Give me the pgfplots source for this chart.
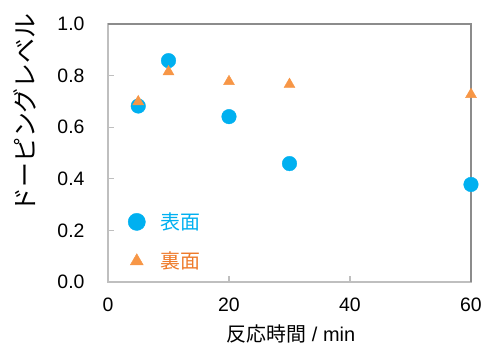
\documentclass[border=0pt]{standalone}
\usepackage{fontspec}
\setmainfont{Liberation Sans}
\newfontfamily\jp{Noto Sans CJK JP}
\usepackage{pgfplots}
\pgfplotsset{compat=1.18}
\usepackage{pgfplotstable}
\definecolor{cblue}{HTML}{00B0F0}
\definecolor{corange}{HTML}{F79646}
\definecolor{torange}{HTML}{EE7A2A}
\definecolor{lgray}{HTML}{BFBFBF}
\definecolor{dgray}{HTML}{8C8C8C}
\pgfplotstableread{
x y
5 0.682
10 0.858
20 0.641
30 0.459
60 0.378
}\surf
\pgfplotstableread{
x y
5 0.699
10 0.815
20 0.777
30 0.766
60 0.727
}\back
\begin{document}
\begin{tikzpicture}
\useasboundingbox (-108bp,-65bp) rectangle (376bp,282bp);
\begin{axis}[
  scale only axis,
  width=363bp, height=258bp,
  xmin=0, xmax=60, ymin=0, ymax=1,
  xtick={0,20,40,60},
  ytick={0,0.2,0.4,0.6,0.8,1.0},
  yticklabel style={/pgf/number format/fixed,/pgf/number format/fixed zerofill,/pgf/number format/precision=1},
  /pgf/number format/assume math mode=true,
  tick pos=left,
  tick align=inside,
  major tick length=6bp,
  tick style={lgray, line width=1.2bp},
  axis line style={lgray, line width=1.5bp},
  tick label style={font=\fontsize{19.5}{22}\selectfont},
  xticklabel style={yshift=-12bp},
  yticklabel style={xshift=-20bp},
  xlabel={{\jp 反応時間} / min},
  ylabel={\jp ドーピングレベル},
  label style={font=\fontsize{20}{24}\selectfont},
  xlabel style={at={(axis description cs:0.504,-0.2)}, anchor=center},
  ylabel style={at={(axis description cs:-0.229,0.655)}, anchor=center, rotate=0, font=\fontsize{25}{28}\selectfont},
  clip=false,
  legend style={at={(axis description cs:0.055,0.037)}, anchor=south west, draw=none, fill=none,
    row sep=17bp, font=\fontsize{20}{24}\selectfont, inner sep=0pt},
  legend cell align=left,
  legend image post style={scale=1.18},
  cycle list={{draw=none}},
]
% top/right darker border
\draw[dgray, line width=1.5bp] (rel axis cs:0,1) -- (rel axis cs:1,1) -- (rel axis cs:1,0);
\addplot[only marks, mark=*, mark size=7.3bp, draw=cblue, fill=cblue, mark options={draw=none, fill=cblue}] table[x=x,y=y]{\surf};
\addlegendentry{\hspace{13bp}\textcolor{cblue}{\jp 表面}}
\addplot[only marks, mark=triangle*, mark size=6.3bp, draw=corange, fill=corange, mark options={draw=none, fill=corange}] table[x=x,y=y]{\back};
\addlegendentry{\hspace{13bp}\textcolor{torange}{\jp 裏面}}
\end{axis}
\end{tikzpicture}
\end{document}
